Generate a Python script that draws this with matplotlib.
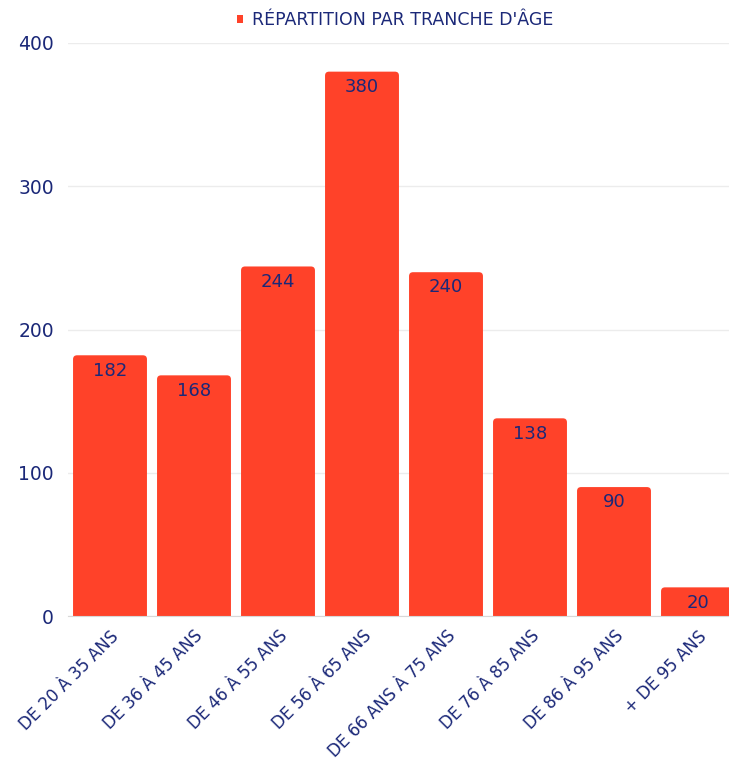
import matplotlib.pyplot as plt
from matplotlib.patches import Patch, FancyBboxPatch

# données
categories = ['DE 20 À 35 ANS', 'DE 36 À 45 ANS', 'DE 46 À 55 ANS', 'DE 56 À 65 ANS',
              'DE 66 ANS À 75 ANS', 'DE 76 À 85 ANS', 'DE 86 À 95 ANS', '+ DE 95 ANS']
values = [182, 168, 244, 380, 240, 138, 90, 20]
yticks = [0, 100, 200, 300, 400]

RED = '#FF4229'
NAVY = '#1B2878'
plt.rcParams['font.family'] = ['DejaVu Sans']

fig = plt.figure(figsize=(7.29, 7.69), dpi=100)
# la dernière barre est coupée au bord droit, comme sur l'original
ax = fig.add_axes([68 / 729, 153 / 769, 672 / 729, 573 / 769])

x = list(range(len(categories)))
ax.set_xlim(-0.5, len(categories) - 0.5)
ax.set_ylim(0, 400)
bars = ax.bar(x, values, width=0.88, color=RED, zorder=2)

# coins supérieurs arrondis
px_x = 672 / 8      # pixels par unité x
px_y = 573 / 400    # pixels par unité y
r = 4 / px_x
for b in bars:
    b.set_visible(False)
    p = FancyBboxPatch((b.get_x(), -10), b.get_width(), b.get_height() + 10,
                       boxstyle=f'round,pad=0,rounding_size={r}',
                       mutation_aspect=px_x / px_y, facecolor=RED, edgecolor='none',
                       zorder=2, clip_on=True)
    ax.add_patch(p)

for xi, v in zip(x, values):
    ax.annotate(str(v), (xi, v), xytext=(0, -11), textcoords='offset points',
                ha='center', va='center', color=NAVY, fontsize=13, zorder=3)

ax.set_yticks(yticks)
ax.set_yticklabels([str(t) for t in yticks], color=NAVY, fontsize=13.5)
ax.set_xticks(x)
ax.set_xticklabels(categories, rotation=45, ha='right', rotation_mode='anchor',
                   color=NAVY, fontsize=12)
ax.tick_params(axis='both', length=0)
ax.tick_params(axis='y', pad=10)
ax.tick_params(axis='x', pad=8)

ax.grid(axis='y', color='#ECECEC', linewidth=1, zorder=0)
for s in ['top', 'right', 'left']:
    ax.spines[s].set_visible(False)
ax.spines['bottom'].set_color('#D8D8D8')
ax.spines['bottom'].set_zorder(3)

handle = Patch(facecolor=RED, edgecolor='none')
fig.legend([handle], ["RÉPARTITION PAR TRANCHE D'ÂGE"], loc='center',
           bbox_to_anchor=(395 / 729, 1 - 20 / 769), frameon=False,
           handlelength=0.35, handleheight=0.35, handletextpad=0.5,
           prop={'size': 12.5}, labelcolor=NAVY)

fig.savefig('out.png', dpi=100)
